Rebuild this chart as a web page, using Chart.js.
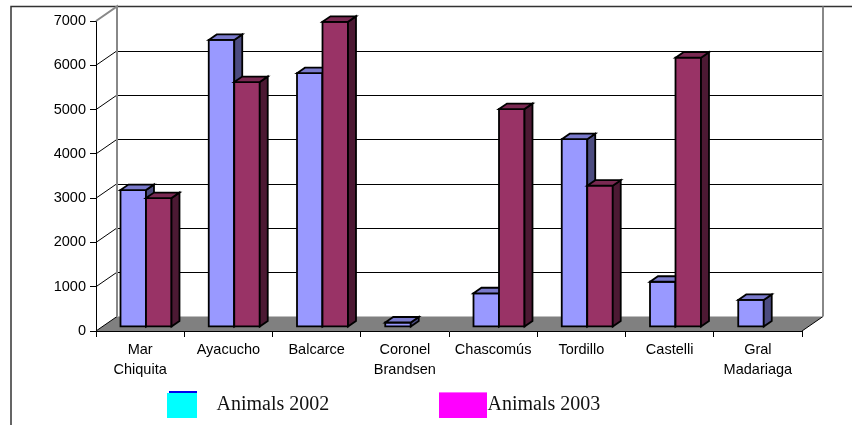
<!DOCTYPE html>
<html>
<head>
<meta charset="utf-8">
<script src="https://cdn.jsdelivr.net/npm/chart.js@4/dist/chart.umd.min.js"></script>
<style>
  html, body { margin: 0; padding: 0; background: #fff; }
  canvas { display: block; }
</style>
</head>
<body>
<canvas id="chart" width="852" height="425"></canvas>
<script>
// ---- data ----
const categories = [['Mar', 'Chiquita'], 'Ayacucho', 'Balcarce', ['Coronel', 'Brandsen'], 'Chascomús', 'Tordillo', 'Castelli', ['Gral', 'Madariaga']];
const animals2002 = [3090, 6480, 5730, 100, 760, 4240, 1020, 610];
const animals2003 = [2910, 5530, 6890, null, 4920, 3190, 6080, null];
const seriesNames = ['Animals 2002', 'Animals 2003'];
const yMin = 0, yMax = 7000, yStep = 1000;

// ---- 3D look ----
const DEPTH = { dx: 21, dy: -14.5 };      // offset from front plane to back wall
const BAR_FRONT = 0.28, BAR_BACK = 0.66;  // depth slice occupied by the columns
const faceColors = [
  { front: '#9999FF', top: '#7A7ACC', side: '#4C4C80' },
  { front: '#993366', top: '#7A2952', side: '#4C1933' }
];
const legendColors = [
  { key: '#00FFFF', edge: '#0000EE' },
  { key: '#FF00FF', edge: '#FF66FF' }
];

Chart.defaults.font.family = '"Liberation Sans", Arial, sans-serif';
Chart.defaults.color = '#000';

function poly(ctx, pts, fill) {
  ctx.beginPath();
  ctx.moveTo(pts[0][0], pts[0][1]);
  for (let i = 1; i < pts.length; i++) ctx.lineTo(pts[i][0], pts[i][1]);
  ctx.closePath();
  ctx.fillStyle = fill;
  ctx.fill();
  ctx.stroke();
}

// Walls, floor and frame behind the columns
const walls3d = {
  id: 'walls3d',
  beforeDatasetsDraw(chart) {
    const { ctx, chartArea: a, scales: { y } } = chart;
    const dx = DEPTH.dx, dy = DEPTH.dy;
    ctx.save();
    // outer frame (top and left)
    ctx.strokeStyle = '#333';
    ctx.lineWidth = 1.5;
    ctx.beginPath();
    ctx.moveTo(11, 425); ctx.lineTo(11, 6.5); ctx.lineTo(852, 6.5);
    ctx.stroke();
    // floor
    ctx.fillStyle = '#808080';
    ctx.beginPath();
    ctx.moveTo(a.left, a.bottom);
    ctx.lineTo(a.right, a.bottom);
    ctx.lineTo(a.right + dx, a.bottom + dy);
    ctx.lineTo(a.left + dx, a.bottom + dy);
    ctx.closePath();
    ctx.fill();
    // back wall gridlines and side wall diagonals
    ctx.strokeStyle = '#000';
    ctx.lineWidth = 1;
    y.ticks.forEach(t => {
      const py = y.getPixelForValue(t.value);
      if (t.value > yMin && t.value < yMax) {
        ctx.beginPath();
        ctx.moveTo(a.left + dx, Math.round(py + dy) + 0.5);
        ctx.lineTo(a.right + dx, Math.round(py + dy) + 0.5);
        ctx.stroke();
      }
      if (t.value < yMax) {
        ctx.beginPath();
        ctx.moveTo(a.left, py);
        ctx.lineTo(a.left + dx, py + dy);
        ctx.stroke();
      }
    });
    // floor right edge
    ctx.beginPath();
    ctx.moveTo(a.right, a.bottom);
    ctx.lineTo(a.right + dx, a.bottom + dy);
    ctx.stroke();
    // wall edges
    ctx.strokeStyle = '#888';
    ctx.lineWidth = 2;
    ctx.beginPath();
    ctx.moveTo(a.left, a.top);
    ctx.lineTo(a.left + dx, a.top + dy);
    ctx.lineTo(a.left + dx, a.bottom + dy);
    ctx.moveTo(a.right + dx, a.top + dy);
    ctx.lineTo(a.right + dx, a.bottom + dy);
    ctx.stroke();
    ctx.restore();
  }
};

// Columns: the bar controller lays out every front face; they are shifted into
// their depth slice and painted per category, left to right, with top and side faces.
const columns3d = {
  id: 'columns3d',
  beforeDatasetsDraw(chart) {
    const ctx = chart.ctx;
    ctx.save();
    ctx.translate(DEPTH.dx * BAR_FRONT, DEPTH.dy * BAR_FRONT);
  },
  afterDatasetsDraw(chart) {
    const ctx = chart.ctx;
    const bdx = DEPTH.dx * (BAR_BACK - BAR_FRONT);
    const bdy = DEPTH.dy * (BAR_BACK - BAR_FRONT);
    ctx.strokeStyle = '#000';
    ctx.lineWidth = 1.8;
    ctx.lineJoin = 'miter';
    const nSets = chart.data.datasets.length;
    chart.data.labels.forEach((_, i) => {
      for (let j = 0; j < nSets; j++) {
        const values = chart.data.datasets[j].data;
        if (values[i] == null) continue;
        const el = chart.getDatasetMeta(j).data[i];
        const col = faceColors[j];
        const { x, y, base, width } = el.getProps(['x', 'y', 'base', 'width'], true);
        const l = x - width / 2, r = x + width / 2;
        const t = Math.min(y, base), b = Math.max(y, base);
        poly(ctx, [[l, t], [r, t], [r, b], [l, b]], col.front);
        poly(ctx, [[r, t], [r + bdx, t + bdy], [r + bdx, b + bdy], [r, b]], col.side);
        poly(ctx, [[l, t], [l + bdx, t + bdy], [r + bdx, t + bdy], [r, t]], col.top);
      }
    });
    ctx.restore();
  }
};

// Legend under the axis
const keyLegend = {
  id: 'keyLegend',
  afterDraw(chart) {
    const ctx = chart.ctx;
    ctx.save();
    ctx.font = '20px "Liberation Serif", "Times New Roman", serif';
    ctx.textBaseline = 'alphabetic';
    // first series
    ctx.fillStyle = legendColors[0].edge;
    ctx.fillRect(169, 391, 28, 2);
    ctx.fillStyle = legendColors[0].key;
    ctx.fillRect(167, 393, 30, 25);
    ctx.fillStyle = '#111';
    ctx.fillText(seriesNames[0], 216.5, 410);
    // second series
    ctx.fillText(seriesNames[1], 487.5, 410);
    ctx.fillStyle = legendColors[1].key;
    ctx.fillRect(439, 392, 48, 26);
    ctx.fillStyle = legendColors[1].edge;
    ctx.fillRect(439, 392, 48, 1);
    ctx.restore();
  }
};

new Chart(document.getElementById('chart'), {
  type: 'bar',
  data: {
    labels: categories,
    datasets: [
      { label: seriesNames[0], data: animals2002, backgroundColor: faceColors[0].front,
        borderWidth: 0, categoryPercentage: 0.578, barPercentage: 1, clip: false },
      { label: seriesNames[1], data: animals2003, backgroundColor: faceColors[1].front,
        borderWidth: 0, categoryPercentage: 0.578, barPercentage: 1, clip: false }
    ]
  },
  options: {
    responsive: false,
    devicePixelRatio: 1,
    animation: false,
    events: [],
    layout: { padding: { top: 21, right: 50, left: 0, bottom: 0 } },
    plugins: { legend: { display: false }, tooltip: { enabled: false } },
    scales: {
      x: {
        grid: { display: true, drawOnChartArea: false, drawTicks: true, tickLength: 6, color: '#000', offset: true },
        border: { display: true, color: '#000', width: 1 },
        ticks: { color: '#000', font: { size: 14.5, lineHeight: 20 / 14.5 }, padding: 3, maxRotation: 0, autoSkip: false },
        afterFit(s) { s.height = 94; }
      },
      y: {
        min: yMin, max: yMax,
        grid: { drawOnChartArea: false, drawTicks: true, tickLength: 6, color: '#000' },
        border: { display: true, color: '#000', width: 1 },
        ticks: { stepSize: yStep, color: '#000', font: { size: 14.5 }, padding: 4, callback: v => String(v) },
        afterFit(s) { s.width = 96; }
      }
    }
  },
  plugins: [walls3d, columns3d, keyLegend]
});
</script>
</body>
</html>
